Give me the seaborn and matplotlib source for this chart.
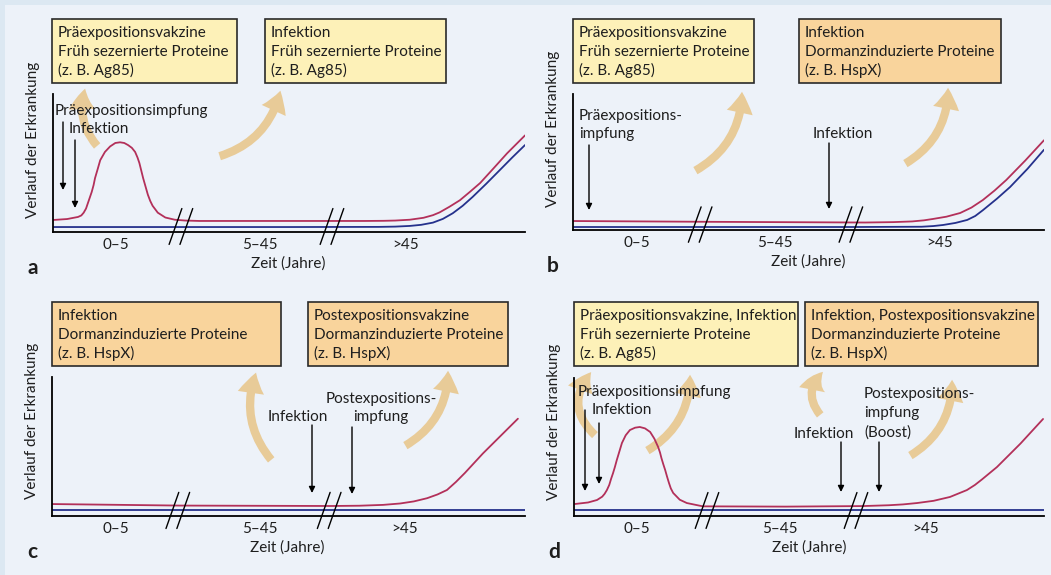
import matplotlib
matplotlib.use('Agg')
import matplotlib.pyplot as plt
import seaborn as sns
from matplotlib.patches import Rectangle, FancyArrowPatch

# schematic units: x 0-100 along each time axis, y 0-100 up the y axis
tick_labels = ['0–5', '5–45', '>45']
ticks_a = [13.3, 43.9, 74.6]
ticks_b = [13.6, 42.9, 77.9]
ticks_c = [13.5, 44.0, 74.6]
ticks_d = [13.4, 43.8, 74.7]
breaks_a = [27.1, 59.1]
breaks_b = [27.0, 59.0]
breaks_c = [26.6, 58.6]
breaks_d = [28.3, 60.0]

a_red_x = [0, 3, 5.3, 6, 6.5, 7, 7.4, 7.8, 8.2, 8.6, 8.9, 9.5, 10, 11, 12.1, 13.2, 14.2, 15.1,
           15.9, 16.7, 17.4, 17.9, 18.3, 18.7, 19.1, 19.6, 20.1, 20.6, 21.1, 22.2, 23.8, 25.8,
           28, 31, 50, 66, 70, 72.5, 75.6, 78.5, 80.5, 81.9, 84, 86.2, 88.3, 90.5, 93.3, 96.2, 100]
a_red_y = [8.7, 9.4, 10.9, 12, 14, 17, 21, 25, 29, 34, 39, 46, 52, 58, 62, 64.5, 65, 64.5,
           63, 61, 58, 54, 50, 44.5, 39, 33, 27, 22.5, 19, 14, 10.5, 8.9,
           8.3, 8, 8, 8, 8.1, 8.3, 8.9, 10.3, 12.2, 14.2, 18.3, 23, 29, 35.5, 46, 57, 70]
a_blue_x = [0, 50, 69, 72.5, 75.6, 78, 80.5, 82.6, 84.7, 86.8, 88.9, 91.8, 94.7, 97.3, 100]
a_blue_y = [3.6, 3.6, 3.7, 3.9, 4.4, 5.2, 6.8, 9.5, 13.6, 19, 25.4, 35, 45, 54, 63]

b_red_x = [0, 30, 62, 68, 72, 74.5, 76.4, 79.3, 82.2, 84.6, 87, 89.5, 92, 96, 100]
b_red_y = [6.6, 6.0, 5.5, 5.8, 6.3, 7.1, 8.1, 9.8, 12.5, 16.5, 22, 29, 36.8, 51, 66]
b_blue_x = [0, 60, 74, 76.5, 78.6, 81.2, 83.7, 85.4, 87, 90, 92.8, 96.5, 100]
b_blue_y = [2.2, 2.2, 2.4, 2.9, 3.7, 5.2, 7.4, 10.3, 14.5, 23, 31.6, 45, 59]

c_red_x = [0, 27, 59, 65, 70, 73.6, 76.5, 79.3, 81.5, 83.5, 85.4, 87.3, 91.1, 94.8, 98.5]
c_red_y = [8.6, 7.5, 7.2, 7.4, 8.0, 9.0, 10.5, 12.8, 15.5, 18.7, 24.5, 31, 45, 57.5, 70]
c_blue_x = [0, 50, 100]
c_blue_y = [4.3, 4.3, 4.3]

d_red_x = [0.2, 3, 4.9, 6, 6.5, 7.0, 7.5, 7.9, 8.3, 8.7, 9.1, 9.5, 10.2, 11, 11.9, 13, 14.0,
           15.1, 16.2, 17.1, 17.9, 18.3, 18.6, 19.0, 19.4, 19.8, 20.2, 20.6, 21.1, 22.5, 24.0,
           27.4, 45, 61.5, 67, 70, 73, 76.5, 80, 83.6, 85.3, 86.8, 90, 95, 99.8]
d_red_y = [8.7, 9.8, 11.6, 14, 16, 18.8, 22.5, 27, 31, 35.5, 40.5, 45, 52.9, 58.5, 62.3, 64,
           64.5, 63.5, 60.9, 56, 50, 46, 42, 37.5, 33.3, 28.5, 24, 20, 16.7, 11.8, 9.4,
           7, 6.8, 7.2, 7.8, 8.4, 9.4, 11, 13.8, 18.8, 22.5, 26.5, 35.5, 52.5, 70.3]
d_blue_x = [0, 50, 100]
d_blue_y = [4.0, 4.0, 4.0]

box_pre = ['Präexpositionsvakzine', 'Früh sezernierte Proteine', '(z. B. Ag85)']
box_inf_early = ['Infektion', 'Früh sezernierte Proteine', '(z. B. Ag85)']
box_inf_dorm = ['Infektion', 'Dormanzinduzierte Proteine', '(z. B. HspX)']
box_post = ['Postexpositionsvakzine', 'Dormanzinduzierte Proteine', '(z. B. HspX)']
box_pre_inf = ['Präexpositionsvakzine, Infektion', 'Früh sezernierte Proteine', '(z. B. Ag85)']
box_inf_post = ['Infektion, Postexpositionsvakzine', 'Dormanzinduzierte Proteine', '(z. B. HspX)']

RED = '#b3305a'
BLUE = '#25318c'
YELLOW = '#fdf1b8'
ORANGE = '#f9d49c'
BEIGE = '#e8cb98'
INK = '#1e1e1e'

sns.set_style('white')
plt.rcParams['font.family'] = ['Lato', 'DejaVu Sans']
plt.rcParams['text.color'] = INK
FS = 11

W, H = 1051, 575
fig = plt.figure(figsize=(W / 100, H / 100), dpi=100, facecolor='#dce8f2')

bg = fig.add_axes([0, 0, 1, 1], zorder=0)
bg.set_xlim(0, W)
bg.set_ylim(H, 0)
bg.axis('off')
bg.add_patch(Rectangle((5, 5), W, H, facecolor='#edf2f9', edgecolor='none'))

ov = fig.add_axes([0, 0, 1, 1], zorder=5)
ov.set_xlim(0, W)
ov.set_ylim(H, 0)
ov.axis('off')

panels = [
    # letter, axes rect (left, right, top, bottom px), ticks, breaks, red, blue
    ('a', (53, 525, 94, 232), ticks_a, breaks_a, (a_red_x, a_red_y), (a_blue_x, a_blue_y)),
    ('b', (573, 1044, 94, 230), ticks_b, breaks_b, (b_red_x, b_red_y), (b_blue_x, b_blue_y)),
    ('c', (52, 525, 377, 516), ticks_c, breaks_c, (c_red_x, c_red_y), (c_blue_x, c_blue_y)),
    ('d', (574, 1044, 378, 516), ticks_d, breaks_d, (d_red_x, d_red_y), (d_blue_x, d_blue_y)),
]

ylab_y = {'a': 140, 'b': 129, 'c': 421, 'd': 422}
for letter, (l, r, t, b), ticks, brks, red, blue in panels:
    ax = fig.add_axes([l / W, 1 - b / H, (r - l) / W, (b - t) / H], zorder=1)
    ax.set_facecolor('none')
    sns.lineplot(x=blue[0], y=blue[1], ax=ax, color=BLUE, lw=1.3, sort=False, estimator=None)
    sns.lineplot(x=red[0], y=red[1], ax=ax, color=RED, lw=1.3, sort=False, estimator=None)
    ax.set_xlim(0, 100)
    ax.set_ylim(0, 100)
    for s in ['top', 'right']:
        ax.spines[s].set_visible(False)
    for s in ['left', 'bottom']:
        ax.spines[s].set_color('black')
        ax.spines[s].set_linewidth(1.3)
    ax.set_yticks([])
    ax.set_xticks(ticks, tick_labels)
    ax.tick_params(axis='x', length=0, pad=4, labelsize=FS, labelcolor=INK)
    ax.set_xlabel('')
    ax.set_ylabel('')
    for c in brks:
        ax.plot([c - 2.5, c + 0.2], [-9, 17], color='black', lw=1, clip_on=False)
        ax.plot([c - 0.2, c + 2.5], [-9, 17], color='black', lw=1, clip_on=False)
    ov.text(l - 20, ylab_y[letter], 'Verlauf der Erkrankung', rotation=90,
            ha='center', va='center', fontsize=FS)
    ov.text(l + 235, b + 32, 'Zeit (Jahre)', ha='center', va='center', fontsize=FS)
    ov.text(l - 20, b + 36, letter, ha='center', va='center', fontsize=15, fontweight='bold')

# boxes: left, top, right, bottom, colour, lines
boxes = [
    (52, 19, 237, 83, YELLOW, box_pre),
    (265, 19, 446, 83, YELLOW, box_inf_early),
    (573, 19, 754, 83, YELLOW, box_pre),
    (799, 19, 1001, 83, ORANGE, box_inf_dorm),
    (52, 302, 281, 366, ORANGE, box_inf_dorm),
    (308, 302, 508, 366, ORANGE, box_post),
    (574, 302, 798, 366, YELLOW, box_pre_inf),
    (805, 302, 1038, 366, ORANGE, box_inf_post),
]
for bl, bt, br, bb, col, lines in boxes:
    bg.add_patch(Rectangle((bl, bt), br - bl, bb - bt, facecolor=col,
                           edgecolor='#2a2a2a', lw=1.2))
    for i, line in enumerate(lines):
        ov.text(bl + 6, bt + 18 + 19 * i, line, ha='left', va='baseline', fontsize=FS)

# big beige arrows: tail, tip, curvature
beige = [
    ((99, 148), (86, 86), -0.3),
    ((217, 157), (281, 88), 0.3),
    ((693, 172), (742, 89), 0.3),
    ((903, 165), (948, 85), 0.3),
    ((273, 462), (257, 370), -0.3),
    ((403, 447), (448, 368), 0.3),
    ((597, 437), (593, 370), -0.5),
    ((645, 452), (690, 372), 0.3),
    ((822, 417), (825, 370), -0.5),
    ((908, 457), (952, 377), 0.3),
]
for tail, tip, rad in beige:
    bg.add_patch(FancyArrowPatch(tail, tip, connectionstyle=f'arc3,rad={rad}',
                                 arrowstyle='simple,head_width=1.9,head_length=1.5,tail_width=0.6',
                                 mutation_scale=10, color=BEIGE, lw=0))

# event labels
labels = [
    ('Präexpositionsimpfung', 55, 115, 'left'),
    ('Infektion', 69, 133, 'left'),
    ('Präexpositions-', 579, 120, 'left'),
    ('impfung', 579, 138, 'left'),
    ('Infektion', 813, 138, 'left'),
    ('Infektion', 268, 421, 'left'),
    ('Postexpositions-', 381, 403, 'center'),
    ('impfung', 381, 421, 'center'),
    ('Präexpositionsimpfung', 578, 396, 'left'),
    ('Infektion', 592, 414, 'left'),
    ('Infektion', 794, 438, 'left'),
    ('Postexpositions-', 864, 398, 'left'),
    ('impfung', 864, 417, 'left'),
    ('(Boost)', 864, 437, 'left'),
]
for s, x, y, ha in labels:
    ov.text(x, y, s, ha=ha, va='baseline', fontsize=FS)

event_arrows = [
    (63, 122, 190), (75, 140, 208),
    (589, 145, 210), (829, 143, 209),
    (312, 425, 493), (352, 427, 494),
    (585, 410, 491), (599, 423, 484), (841, 442, 492), (879, 442, 492),
]
for x, y0, y1 in event_arrows:
    ov.annotate('', xy=(x, y1), xytext=(x, y0),
                arrowprops=dict(arrowstyle='-|>', color='black', lw=1.0,
                                shrinkA=0, shrinkB=0, mutation_scale=9))

fig.savefig('out.png', dpi=100, facecolor=fig.get_facecolor())
